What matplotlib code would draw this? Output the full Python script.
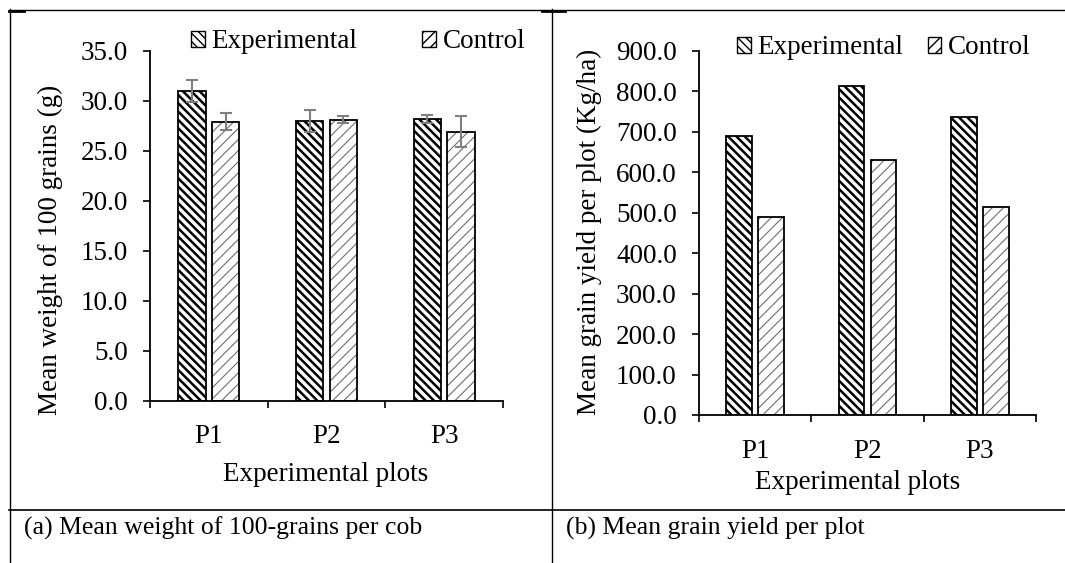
import matplotlib.pyplot as plt
from matplotlib.lines import Line2D
from matplotlib.patches import Patch
import numpy as np

plt.rcParams['font.family'] = ['Liberation Serif', 'DejaVu Serif']

plots = ['P1', 'P2', 'P3']
series = ['Experimental', 'Control']

weight_exp = [31.0, 28.0, 28.2]
weight_exp_err = [1.1, 1.1, 0.4]
weight_ctrl = [27.9, 28.1, 26.9]
weight_ctrl_err = [0.85, 0.35, 1.55]

yield_exp = [690, 814, 736]
yield_ctrl = [489, 630, 515]

W, H = 1065, 563
FS = 19.5


def fx(x):
    return x / W


def fy(y):
    return 1 - y / H


def hatched_bars(ax, x, vals, hatch, hcolor, hlw, width):
    bars = ax.bar(x, vals, width, color='white', edgecolor=hcolor, hatch=hatch, linewidth=0, zorder=2)
    for b in bars:
        try:
            b.set_hatch_linewidth(hlw)
        except AttributeError:
            pass
    ax.bar(x, vals, width, fill=False, edgecolor='black', linewidth=1.3, zorder=3)


def panel(ax, exp, ctrl, ymax, step, exp_err=None, ctrl_err=None):
    x = np.arange(len(plots))
    w = 0.23
    hatched_bars(ax, x - 0.143, exp, '\\\\\\\\', 'black', 1.8, w)
    hatched_bars(ax, x + 0.143, ctrl, '///', '#6e6e6e', 0.8, w)
    if exp_err is not None:
        ax.errorbar(x - 0.143, exp, yerr=exp_err, fmt='none', ecolor='#7f7f7f',
                    elinewidth=1.5, capsize=4.5, capthick=1.5, zorder=4)
        ax.errorbar(x + 0.143, ctrl, yerr=ctrl_err, fmt='none', ecolor='#7f7f7f',
                    elinewidth=1.5, capsize=4.5, capthick=1.5, zorder=4)
    ax.set_xlim(-0.5, len(plots) - 0.5)
    ax.set_ylim(0, ymax)
    ax.set_yticks(np.arange(0, ymax + step / 2, step))
    ax.yaxis.set_major_formatter(plt.FormatStrFormatter('%.1f'))
    ax.set_xticks(x)
    ax.set_xticklabels(plots)
    ax.set_xticks(np.arange(-0.5, len(plots)), minor=True)
    ax.tick_params(axis='x', which='major', length=0, pad=17, labelsize=FS)
    ax.tick_params(axis='x', which='minor', length=5, width=1.2, direction='out')
    ax.tick_params(axis='y', length=5, width=1.2, pad=11, labelsize=FS)
    for s in ['top', 'right']:
        ax.spines[s].set_visible(False)
    for s in ['left', 'bottom']:
        ax.spines[s].set_linewidth(1.3)


fig = plt.figure(figsize=(W / 100, H / 100), dpi=100)

ax1 = fig.add_axes([fx(150), fy(400.7), fx(503) - fx(150), fy(51) - fy(400.7)])
panel(ax1, weight_exp, weight_ctrl, 35, 5, weight_exp_err, weight_ctrl_err)

ax2 = fig.add_axes([fx(699), fy(415), fx(1036) - fx(699), fy(51) - fy(415)])
panel(ax2, yield_exp, yield_ctrl, 900, 100)

handles = [Patch(facecolor='white', edgecolor='black', hatch='\\\\\\\\', linewidth=1),
           Patch(facecolor='white', edgecolor='black', hatch='///', linewidth=1)]
for anchor, colsp in [((fx(191), fy(42)), 2.4), ((fx(737), fy(48)), 0.9)]:
    fig.legend(handles, series, loc='center left', bbox_to_anchor=anchor,
               bbox_transform=fig.transFigure, ncol=2, frameon=False, fontsize=FS,
               handlelength=0.5, handleheight=0.5, handletextpad=0.25,
               columnspacing=colsp, borderpad=0, borderaxespad=0)

fig.text(fx(326), fy(481), 'Experimental plots', ha='center', va='baseline', fontsize=FS)
fig.text(fx(858), fy(489), 'Experimental plots', ha='center', va='baseline', fontsize=FS)
fig.text(fx(50), fy(250), 'Mean weight of 100 grains (g)', rotation=90,
         ha='center', va='center', fontsize=FS)
fig.text(fx(589), fy(232), 'Mean grain yield per plot (Kg/ha)', rotation=90,
         ha='center', va='center', fontsize=FS)
fig.text(fx(24), fy(535), '(a) Mean weight of 100-grains per cob', ha='left', va='baseline', fontsize=18.5)
fig.text(fx(566), fy(535), '(b) Mean grain yield per plot', ha='left', va='baseline', fontsize=18.5)

# table frame lines
frame = [((9, 1065), (9.5, 9.5), 1.0), ((9.5, 9.5), (9, 563), 1.0),
         ((552, 552), (9, 563), 1.0), ((9, 1065), (510, 510), 1.2),
         ((9, 24), (10.5, 10.5), 2.0), ((542, 565), (10.5, 10.5), 2.0)]
for xs, ys, lw in frame:
    fig.add_artist(Line2D([fx(v) for v in xs], [fy(v) for v in ys], color='black',
                          linewidth=lw, transform=fig.transFigure))

fig.savefig('out.png', dpi=100)
